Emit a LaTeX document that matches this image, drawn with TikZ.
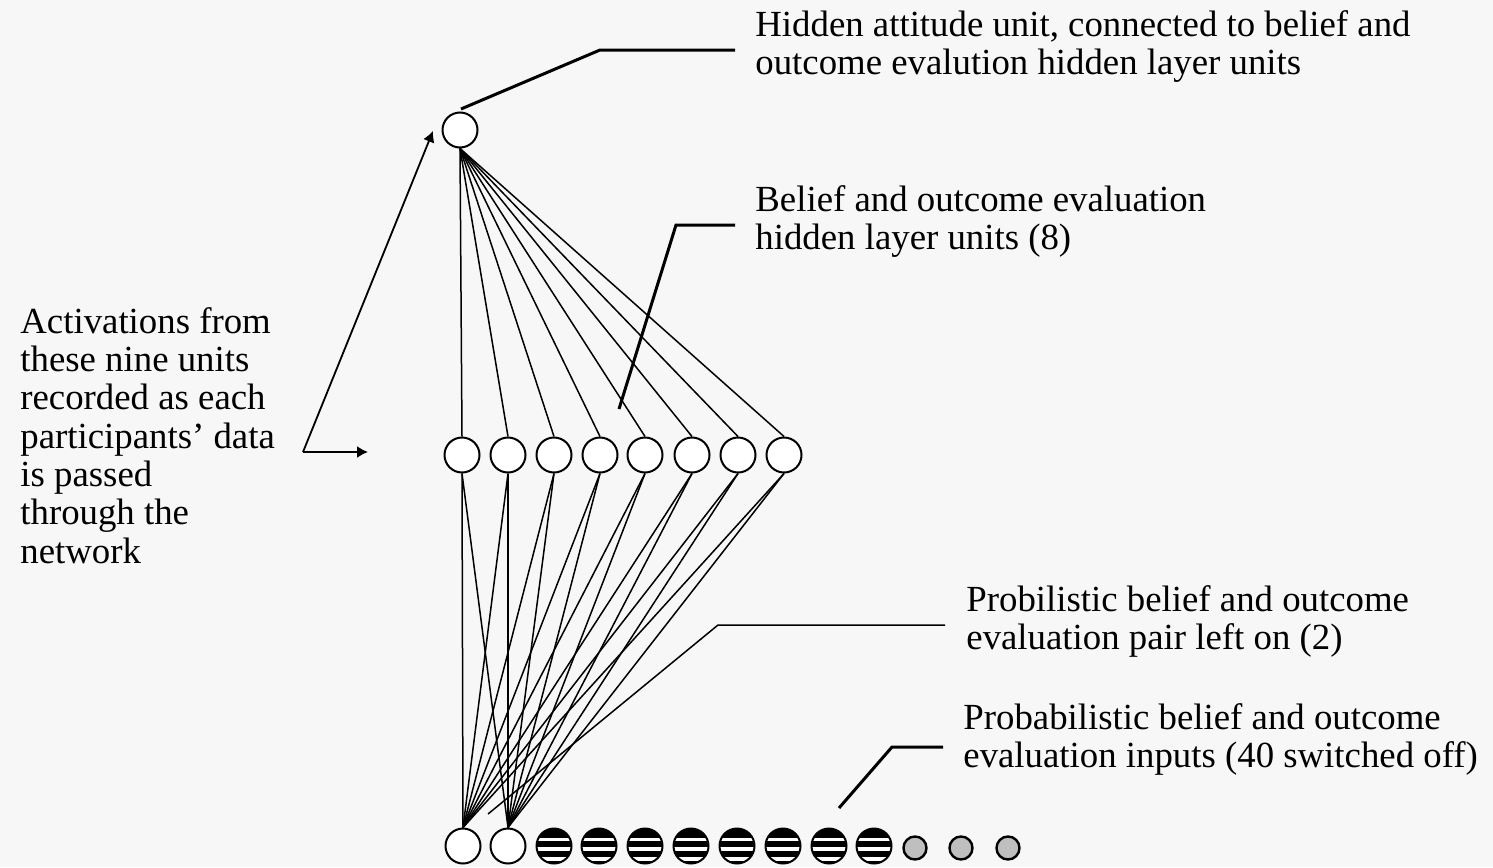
\documentclass[tikz,border=0pt]{standalone}
\usepackage{fontspec}
\setmainfont{Liberation Serif}
\usetikzlibrary{arrows.meta}

\tikzset{
  unit/.style={shape=circle, draw, line width=1pt, minimum size=17.5pt, inner sep=0pt, fill=white},
  offunit/.style={shape=circle, draw, line width=1.2pt, minimum size=11.5pt, inner sep=0pt, fill=gray!50},
  striped/.style={unit, path picture={
      \fill[black] ([yshift=4.2pt]path picture bounding box.west) rectangle ([yshift=10pt]path picture bounding box.east);
      \fill[black] ([yshift=-0.4pt]path picture bounding box.west) rectangle ([yshift=2.6pt]path picture bounding box.east);
      \fill[black] ([yshift=-5.7pt]path picture bounding box.west) rectangle ([yshift=-2.5pt]path picture bounding box.east);
      \fill[black] ([yshift=-10pt]path picture bounding box.west) rectangle ([yshift=-7.4pt]path picture bounding box.east);}},
  link/.style={line width=0.75pt},
  leader/.style={line width=1.5pt},
  note/.style={anchor=north west, align=left, inner sep=0pt, font=\fontsize{18.4}{19.15}\selectfont}
}

\begin{document}
\begin{tikzpicture}[x=0.5pt, y=-0.5pt]
\fill[gray!6] (0,0) rectangle (1493,867);
\useasboundingbox (0,0) rectangle (1493,867);

% hidden attitude unit
\node[unit] (T) at (460,130) {};

% belief and outcome evaluation hidden units
\node[unit] (H1) at (462,455) {};
\node[unit] (H2) at (508,455) {};
\node[unit] (H3) at (554,455) {};
\node[unit] (H4) at (600,455) {};
\node[unit] (H5) at (645,455) {};
\node[unit] (H6) at (692,455) {};
\node[unit] (H7) at (738,455) {};
\node[unit] (H8) at (784,455) {};

% input units
\node[unit] (I1) at (463,846) {};
\node[unit] (I2) at (508,846) {};
\node[striped] (I3) at (554,846) {};
\node[striped] (I4) at (599,846) {};
\node[striped] (I5) at (645,846) {};
\node[striped] (I6) at (691,846) {};
\node[striped] (I7) at (737,846) {};
\node[striped] (I8) at (783,846) {};
\node[striped] (I9) at (829,846) {};
\node[striped] (I10) at (874,846) {};
\node[offunit] (I11) at (915,848) {};
\node[offunit] (I12) at (961,848) {};
\node[offunit] (I13) at (1008,848) {};

\foreach \h in {1,...,8} {
  \draw[link] (T.south) -- (H\h.north);
  \draw[link] (H\h.south) -- (I1.north);
  \draw[link] (H\h.south) -- (I2.north);
}

% texts
\node[note] (tAtt) at (755,10) {Hidden attitude unit, connected to belief and\\outcome evalution hidden layer units};
\node[note] (tHid) at (755,185) {Belief and outcome evaluation\\hidden layer units (8)};
\node[note] (tAct) at (20,307) {Activations from\\these nine units\\recorded as each\\participants' data\\is passed\\through the\\network};
\node[note] (tOn) at (966,585) {Probilistic belief and outcome\\evaluation pair left on (2)};
\node[note] (tOff) at (963,703) {Probabilistic belief and outcome\\evaluation inputs (40 switched off)};

% leaders
\coordinate (kAtt) at (600,50);
\coordinate (eAtt) at (735,50);
\coordinate (pAtt) at (461,109);
\draw[leader] (eAtt) -- (kAtt) -- (pAtt);
\coordinate (kHid) at (676,225);
\coordinate (eHid) at (735,225);
\coordinate (pHid) at (619,409);
\draw[leader] (eHid) -- (kHid) -- (pHid);
\coordinate (kOn) at (718,625);
\coordinate (eOn) at (945,625);
\coordinate (pOn) at (488,814);
\draw[link] (eOn) -- (kOn) -- (pOn);
\coordinate (kOff) at (892,747);
\coordinate (eOff) at (943,747);
\coordinate (pOff) at (839,808);
\draw[leader] (eOff) -- (kOff) -- (pOff);

% recording arrows
\coordinate (corner) at (303,452);
\coordinate (tipT) at (433,131);
\coordinate (tipH) at (368,452);
\draw[line width=0.9pt, -{Latex[length=5.5pt,width=6pt]}] (corner) -- (tipT);
\draw[line width=0.9pt, -{Latex[length=5.5pt,width=6pt]}] (corner) -- (tipH);
\end{tikzpicture}
\end{document}
